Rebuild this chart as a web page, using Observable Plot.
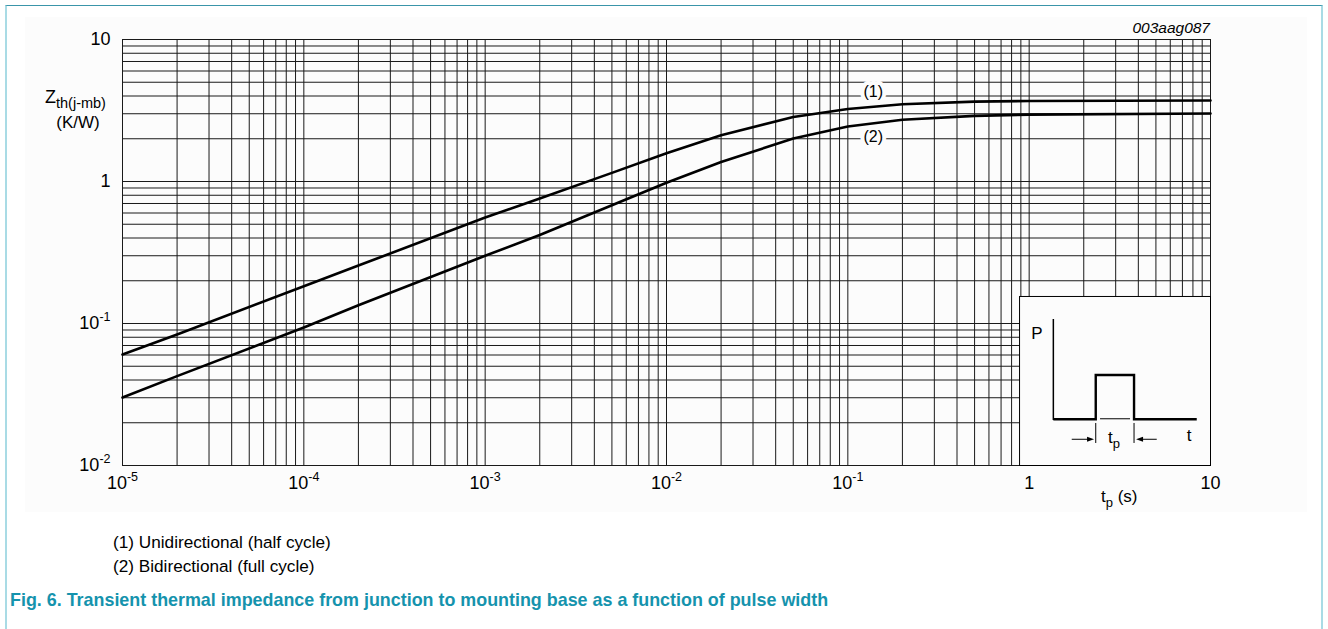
<!DOCTYPE html>
<html><head><meta charset="utf-8">
<script src="https://cdn.jsdelivr.net/npm/d3@7"></script>
<script src="https://cdn.jsdelivr.net/npm/@observablehq/plot@0.6"></script>
<style>
body{margin:0;background:#fff;font-family:Arial,"Liberation Sans",sans-serif;}
#page{position:relative;width:1328px;height:629px;overflow:hidden;background:#fff;}
#border{position:absolute;left:5px;top:5px;width:1318px;height:660px;border-top:1px solid #3a95a9;border-left:2px solid #a9dbe5;border-right:2px solid #a9dbe5;box-sizing:border-box;}
#chart{position:absolute;left:25px;top:17px;}
#legend{position:absolute;left:113px;top:530px;font-size:17.2px;line-height:24px;color:#000;white-space:nowrap;}
#caption{position:absolute;left:10px;top:589px;font-size:17.9px;font-weight:bold;color:#1593ad;line-height:22px;white-space:nowrap;}
</style></head>
<body><div id="page"><div id="border"></div><div id="chart"></div><div id="legend"></div><div id="caption"></div></div>
<script>
// ---- data ----
const pulseWidth = [1e-5, 2e-5, 1e-4, 2e-4, 1e-3, 2e-3, 5e-3, 1e-2, 2e-2, 5e-2, 1e-1, 2e-1, 5e-1, 1, 10];
const zthUni =     [0.0605, 0.0836, 0.183, 0.256, 0.557, 0.76, 1.15, 1.58, 2.12, 2.85, 3.24, 3.50, 3.65, 3.69, 3.72];
const zthBi =      [0.0301, 0.0426, 0.0937, 0.1345, 0.30, 0.42, 0.68, 0.98, 1.37, 2.01, 2.44, 2.72, 2.90, 2.96, 3.01];
const seriesNames = ["(1)", "(2)"];
const seriesLabelX = [0.138, 0.138];
const seriesLabelY = [4.25, 2.05];
const xTickValues = [1e-5, 1e-4, 1e-3, 1e-2, 1e-1, 1, 10];
const xTickLabels = ["10^-5", "10^-4", "10^-3", "10^-2", "10^-1", "1", "10"];
const yTickValues = [0.01, 0.1, 1, 10];
const yTickLabels = ["10^-2", "10^-1", "1", "10"];
const legendLines = ["(1) Unidirectional (half cycle)", "(2) Bidirectional (full cycle)"];
const captionText = "Fig. 6. Transient thermal impedance from junction to mounting base as a function of pulse width";
const figureId = "003aag087";

// ---- derived tables ----
const rows = [
  ...pulseWidth.map((t, i) => ({t, z: zthUni[i], s: seriesNames[0]})),
  ...pulseWidth.map((t, i) => ({t, z: zthBi[i], s: seriesNames[1]}))
];
const labelRows = seriesNames.map((s, i) => ({s, x: seriesLabelX[i], y: seriesLabelY[i]}));
const xGrid = [];
for (let e = -5; e <= 0; e++) for (let m = 1; m <= 9; m++) xGrid.push(m * Math.pow(10, e));
xGrid.push(10);
const yGrid = [];
for (let e = -2; e <= 0; e++) for (let m = 1; m <= 9; m++) yGrid.push(m * Math.pow(10, e));
yGrid.push(10);

const FONT = "Arial, 'Liberation Sans', sans-serif";
const chart = Plot.plot({
  width: 1282, height: 495,
  marginLeft: 97, marginRight: 97, marginTop: 22, marginBottom: 47,
  style: {background: "#fcfcfc", fontFamily: FONT, fontSize: "18px", color: "#000", overflow: "visible"},
  x: {type: "log", domain: [1e-5, 10]},
  y: {type: "log", domain: [0.01, 10]},
  marks: [
    Plot.ruleX(xGrid, {stroke: "#1a1a1a", strokeWidth: 1}),
    Plot.ruleY(yGrid, {stroke: "#1a1a1a", strokeWidth: 1}),
    Plot.line(rows, {x: "t", y: "z", z: "s", stroke: "#000", strokeWidth: 2.6, curve: "linear"}),
    Plot.text(labelRows, {x: "x", y: "y", text: "s", fill: "#000", stroke: "#fcfcfc", strokeWidth: 8, paintOrder: "stroke", fontSize: 16}),
    Plot.axisX(xTickValues, {tickSize: 0, tickPadding: 11, fontSize: 18, tickFormat: d => xTickLabels[xTickValues.indexOf(d)], label: null}),
    Plot.axisY(yTickValues, {tickSize: 0, tickPadding: 12, fontSize: 18, tickFormat: d => yTickLabels[yTickValues.indexOf(d)], label: null})
  ]
});
document.getElementById("chart").appendChild(chart);

// superscripts in tick labels
chart.querySelectorAll('g[aria-label="x-axis tick label"] text, g[aria-label="y-axis tick label"] text').forEach(t => {
  const s = t.textContent;
  if (s.includes("^")) {
    const [base, exp] = s.split("^");
    t.textContent = base;
    const ts = document.createElementNS("http://www.w3.org/2000/svg", "tspan");
    ts.setAttribute("dy", "-8");
    ts.setAttribute("font-size", "12.5");
    ts.textContent = exp;
    t.appendChild(ts);
  }
});

const svg = d3.select(chart);
const sx = chart.scale("x"), sy = chart.scale("y");

// inset box (pulse definition)
const insetLeft = 0.885, insetTop = 0.155;
const bx0 = sx.apply(insetLeft), bx1 = sx.apply(10), by0 = sy.apply(insetTop), by1 = sy.apply(0.01);
const g = svg.append("g").attr("transform", `translate(${bx0},${by0})`).attr("font-family", FONT);
g.append("rect").attr("x", 0.5).attr("y", 0.5).attr("width", bx1 - bx0).attr("height", by1 - by0)
  .attr("fill", "#fcfcfc").attr("stroke", "#000").attr("stroke-width", 1);
g.append("text").attr("x", 18).attr("y", 43).attr("text-anchor", "middle").attr("font-size", 17).text("P");
g.append("line").attr("x1", 34.3).attr("x2", 34.3).attr("y1", 23).attr("y2", 124).attr("stroke", "#000").attr("stroke-width", 1.5);
g.append("path").attr("d", "M34.3,123.3H76.7V79H115V123.3H177.7").attr("fill", "none").attr("stroke", "#000").attr("stroke-width", 2.4);
g.append("line").attr("x1", 81).attr("x2", 111).attr("y1", 122.8).attr("y2", 122.8).attr("stroke", "#000").attr("stroke-width", 1);
[76.7, 115].forEach(x => g.append("line").attr("x1", x).attr("x2", x).attr("y1", 127).attr("y2", 147).attr("stroke", "#000").attr("stroke-width", 1));
g.append("line").attr("x1", 52.7).attr("x2", 70).attr("y1", 143.3).attr("y2", 143.3).attr("stroke", "#000").attr("stroke-width", 1);
g.append("path").attr("d", "M75,143.3L68,140.8L68,145.8Z").attr("fill", "#000");
g.append("line").attr("x1", 122).attr("x2", 137.7).attr("y1", 143.3).attr("y2", 143.3).attr("stroke", "#000").attr("stroke-width", 1);
g.append("path").attr("d", "M117,143.3L124,140.8L124,145.8Z").attr("fill", "#000");
const tp = g.append("text").attr("x", 95).attr("y", 147).attr("text-anchor", "middle").attr("font-size", 17);
tp.append("tspan").text("t");
tp.append("tspan").attr("dy", 5).attr("font-size", 13).text("p");
g.append("text").attr("x", 170).attr("y", 145).attr("text-anchor", "middle").attr("font-size", 17).text("t");

// axis titles
const yt = svg.append("text").attr("x", 20).attr("y", 86).attr("text-anchor", "start").attr("font-size", 18).attr("font-family", FONT);
yt.append("tspan").text("Z");
yt.append("tspan").attr("dy", 5).attr("font-size", 14.5).text("th(j-mb)");
svg.append("text").attr("x", 53).attr("y", 111).attr("text-anchor", "middle").attr("font-size", 17).attr("font-family", FONT).text("(K/W)");
const xt = svg.append("text").attr("x", 1076).attr("y", 485).attr("text-anchor", "start").attr("font-size", 17).attr("font-family", FONT);
xt.append("tspan").text("t");
xt.append("tspan").attr("dy", 5).attr("font-size", 13).text("p");
xt.append("tspan").attr("dy", -5).text(" (s)");
svg.append("text").attr("x", 1185).attr("y", 16).attr("text-anchor", "end").attr("font-size", 15.5).attr("font-style", "italic").attr("font-family", FONT).text(figureId);

document.getElementById("legend").innerHTML = legendLines.map(s => `<div>${s}</div>`).join("");
document.getElementById("caption").textContent = captionText;
</script>
</body></html>
